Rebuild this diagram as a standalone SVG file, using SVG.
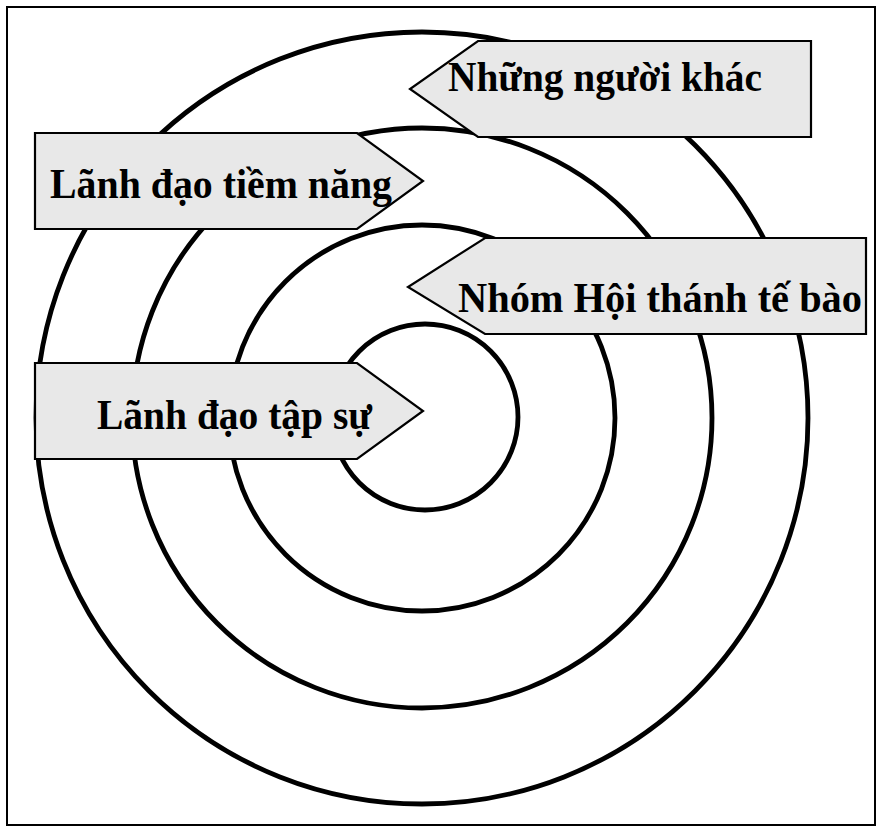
<svg xmlns="http://www.w3.org/2000/svg" width="882" height="832" viewBox="0 0 882 832">
<style>
.ring{fill:none;stroke:#000;stroke-width:4.8}
.box{fill:#e8e8e8;stroke:#000;stroke-width:2.2;stroke-linejoin:miter}
.lbl{font-family:"Liberation Serif","Times New Roman",serif;font-weight:bold;font-size:42px;fill:#000}
</style>
<rect x="0" y="0" width="882" height="832" fill="#fff"/>
<rect id="frame" x="7" y="7" width="868" height="818" fill="none" stroke="#000" stroke-width="2"/>
<g id="rings">
<circle class="ring" cx="422" cy="418" r="386"/>
<circle class="ring" cx="422" cy="418" r="290"/>
<circle class="ring" cx="422" cy="418" r="193"/>
<circle class="ring" cx="425" cy="417" r="93"/>
</g>
<g id="connectors"></g>
<g id="nhung-nguoi-khac">
<path class="box" d="M478,41 L811,41 L811,137 L478,137 L410,89 Z"/>
<text class="lbl" x="448" y="91" textLength="314" lengthAdjust="spacingAndGlyphs">Những người khác</text>
</g>
<g id="lanh-dao-tiem-nang">
<path class="box" d="M35,133 L357,133 L423,181 L357,229 L35,229 Z"/>
<text class="lbl" x="50" y="198" textLength="342" lengthAdjust="spacingAndGlyphs">Lãnh đạo tiềm năng</text>
</g>
<g id="nhom-hoi-thanh">
<path class="box" d="M485,238 L866,238 L866,334 L485,334 L408,287 Z"/>
<text class="lbl" x="458" y="312" textLength="404" lengthAdjust="spacingAndGlyphs">Nhóm Hội thánh tế bào</text>
</g>
<g id="lanh-dao-tap-su">
<path class="box" d="M35,363 L357,363 L423,411 L357,459 L35,459 Z"/>
<text class="lbl" x="97" y="429" textLength="275" lengthAdjust="spacingAndGlyphs">Lãnh đạo tập sự</text>
</g>
</svg>
